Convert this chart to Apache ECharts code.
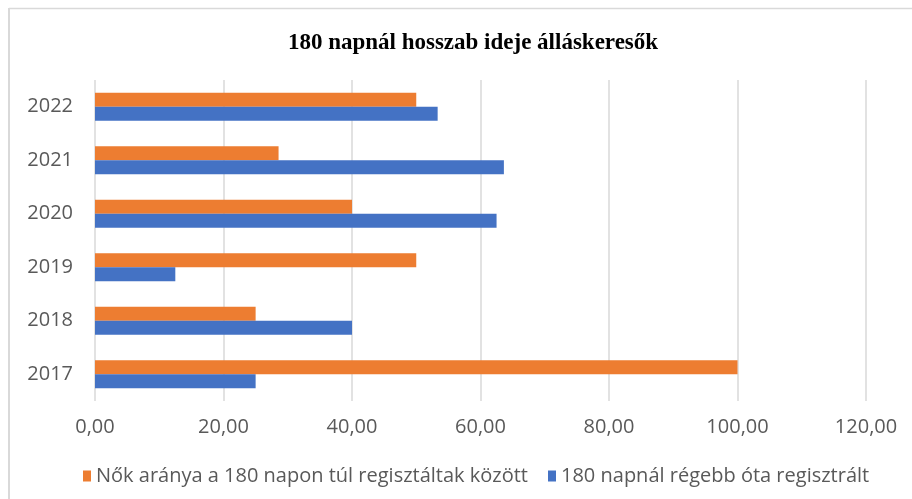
<!DOCTYPE html>
<html>
<head>
<meta charset="utf-8">
<script src="https://cdn.jsdelivr.net/npm/echarts@6/dist/echarts.min.js"></script>
<style>
  html, body { margin: 0; padding: 0; background: #fff; }
  #chart { width: 912px; height: 499px; }
</style>
</head>
<body>
<div id="chart"></div>
<script>
const years = ["2017", "2018", "2019", "2020", "2021", "2022"];
const womenShare = [100, 25, 50, 40, 28.57, 50];
const longTerm = [25, 40, 12.5, 62.5, 63.64, 53.33];
const seriesNames = [
  "Nők aránya a 180 napon túl regisztáltak között",
  "180 napnál régebb óta regisztrált",
];

const labelFont = '"Open Sans", sans-serif';
const chart = echarts.init(document.getElementById("chart"), null, { renderer: "canvas" });

chart.setOption({
  animation: false,
  title: {
    text: "180 napnál hosszab ideje álláskeresők",
    left: 468,
    textAlign: "center",
    top: 27,
    textStyle: {
      fontFamily: '"Liberation Serif", serif',
      fontWeight: "bold",
      fontSize: 23,
      color: "#000",
    },
  },
  graphic: [
    { type: "line", shape: { x1: 9, y1: 8.5, x2: 912, y2: 8.5 }, style: { stroke: "#d9d9d9", lineWidth: 1.5 } },
    { type: "line", shape: { x1: 9, y1: 8, x2: 9, y2: 499 }, style: { stroke: "#d9d9d9", lineWidth: 2 } },
  ],
  legend: {
    data: seriesNames,
    top: 461,
    left: 78,
    itemWidth: 8,
    itemHeight: 11,
    itemGap: 20,
    icon: "rect",
    textStyle: { fontFamily: labelFont, fontSize: 20, color: "#595959" },
  },
  grid: { left: 95, right: 46, top: 80, bottom: 98 },
  xAxis: {
    type: "value",
    min: 0,
    max: 120,
    interval: 20,
    axisLine: { show: false },
    axisTick: { show: false },
    axisLabel: {
      margin: 16,
      color: "#595959",
      fontFamily: labelFont,
      fontSize: 20,
      formatter: (v) => v.toFixed(2).replace(".", ","),
    },
    splitLine: { lineStyle: { color: "#d9d9d9", width: 1.5 } },
  },
  yAxis: {
    type: "category",
    data: years,
    axisLine: { show: false },
    axisTick: { show: false },
    axisLabel: { margin: 22, color: "#595959", fontFamily: labelFont, fontSize: 20 },
  },
  series: [
    {
      name: seriesNames[0],
      type: "bar",
      data: womenShare,
      barWidth: 14,
      barGap: "0%",
      itemStyle: { color: "#ED7D31" },
    },
    {
      name: seriesNames[1],
      type: "bar",
      data: longTerm,
      barWidth: 14,
      barGap: "0%",
      itemStyle: { color: "#4472C4" },
    },
  ],
});
</script>
</body>
</html>
